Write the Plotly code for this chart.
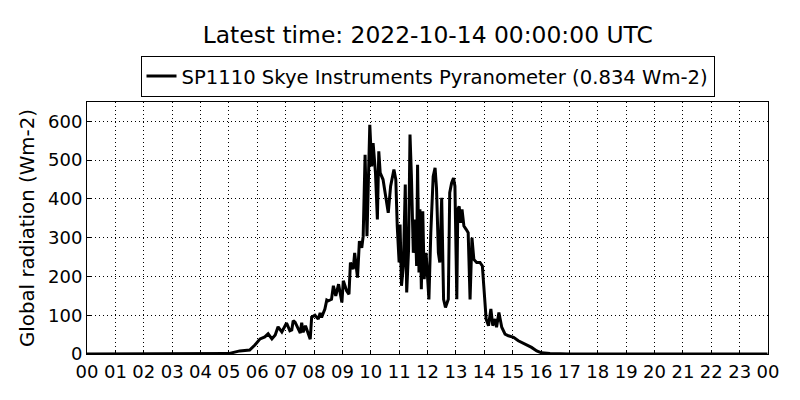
import pandas as pd
import plotly.graph_objects as go

day = "2022-10-13"
title_text = "Latest time: 2022-10-14 00:00:00 UTC"
series_name = "SP1110 Skye Instruments Pyranometer (0.834 Wm-2)"

# times (HH:MM, UTC) and global radiation (Wm-2)
times = [
    "00:00", "04:50", "04:59", "05:23", "05:44", "05:55", "06:06", "06:16", "06:23", "06:31",
    "06:38", "06:44", "06:52", "07:02", "07:09", "07:13", "07:16", "07:20", "07:27", "07:31",
    "07:34", "07:37", "07:42", "07:48", "07:52", "07:55", "08:02", "08:09", "08:13", "08:16",
    "08:23", "08:27", "08:30", "08:37", "08:41", "08:46", "08:52", "08:59", "09:02", "09:09",
    "09:14", "09:17", "09:23", "09:26", "09:32", "09:36", "09:41", "09:44", "09:48", "09:52",
    "09:55", "09:58", "10:02", "10:05", "10:10", "10:14", "10:17", "10:20", "10:26", "10:32",
    "10:37", "10:42", "10:49", "10:53", "10:56", "11:00", "11:02", "11:05", "11:09", "11:13",
    "11:16", "11:20", "11:23", "11:26", "11:30", "11:34", "11:37", "11:39", "11:42", "11:44",
    "11:47", "11:50", "11:53", "11:57", "11:59", "12:03", "12:07", "12:10", "12:12", "12:16",
    "12:19", "12:23", "12:26", "12:30", "12:34", "12:38", "12:44", "12:47", "12:51", "12:55",
    "12:58", "13:02", "13:04", "13:07", "13:10", "13:13", "13:17", "13:22", "13:26", "13:30",
    "13:34", "13:38", "13:44", "13:51", "13:56", "13:59", "14:04", "14:09", "14:14", "14:18",
    "14:23", "14:26", "14:31", "14:37", "14:44", "14:51", "15:02", "15:12", "15:23", "15:34",
    "15:40", "15:51", "16:01", "16:19", "17:00", "23:59",
]
radiation = [
    0, 0, 1, 8, 10, 23, 39, 44, 52, 39,
    49, 70, 57, 80, 60, 62, 86, 82, 64, 54,
    81, 56, 73, 50, 38, 95, 100, 90, 106, 94,
    116, 139, 137, 141, 176, 150, 180, 133, 189, 163,
    154, 236, 219, 261, 197, 291, 274, 304, 514, 304,
    458, 591, 484, 544, 467, 347, 523, 467, 450, 407,
    364, 433, 476, 450, 330, 236, 334, 176, 227, 437,
    159, 270, 566, 458, 261, 347, 227, 488, 210, 373,
    167, 368, 193, 261, 227, 141, 313, 433, 458, 480,
    428, 261, 236, 403, 141, 120, 141, 416, 441, 454,
    433, 141, 373, 381, 338, 373, 330, 321, 313, 141,
    300, 244, 236, 236, 227, 176, 90, 73, 116, 73,
    90, 69, 107, 69, 51, 47, 43, 34, 28, 21,
    17, 8, 3, 1, 0, 0,
]

x = pd.to_datetime([day + " " + t for t in times])
font = "DejaVu Sans"

fig = go.Figure()
fig.add_trace(go.Scatter(x=x, y=radiation, mode="lines", name=series_name,
                         line=dict(color="black", width=3)))

# page has an 8px body margin, so the figure is 792x392
fig.update_layout(
    width=792, height=392,
    margin=dict(l=79, r=32, t=94, b=46),
    paper_bgcolor="white", plot_bgcolor="white",
    font=dict(family=font, color="black", size=18),
    title=dict(text=title_text, x=0.530, xanchor="center", y=0.931, yanchor="middle",
               font=dict(size=23.4)),
    showlegend=True,
    legend=dict(x=0.5, xanchor="center", y=1.183, yanchor="top", orientation="h",
                bordercolor="black", borderwidth=1, font=dict(size=19.6),
                bgcolor="white"),
)
fig.update_xaxes(
    range=[day + " 00:00", "2022-10-14 00:00"],
    tickformat="%H", dtick=3600000, tick0=day + " 00:00",
    showline=True, linecolor="black", linewidth=1, mirror=True,
    showgrid=True, gridcolor="black", griddash="1px,3px", gridwidth=1,
    ticks="inside", ticklen=4, tickcolor="black", ticklabelstandoff=1,
    tickfont=dict(size=18), zeroline=False, automargin=False,
)
fig.update_yaxes(
    range=[0, 650], dtick=100, tick0=0,
    title=dict(text="Global radiation (Wm-2)", standoff=8, font=dict(size=19.8)),
    showline=True, linecolor="black", linewidth=1, mirror=True,
    showgrid=True, gridcolor="black", griddash="1px,3px", gridwidth=1,
    ticks="inside", ticklen=4, tickcolor="black",
    tickfont=dict(size=18), zeroline=False, automargin=False,
)

fig.write_html("out.html")
